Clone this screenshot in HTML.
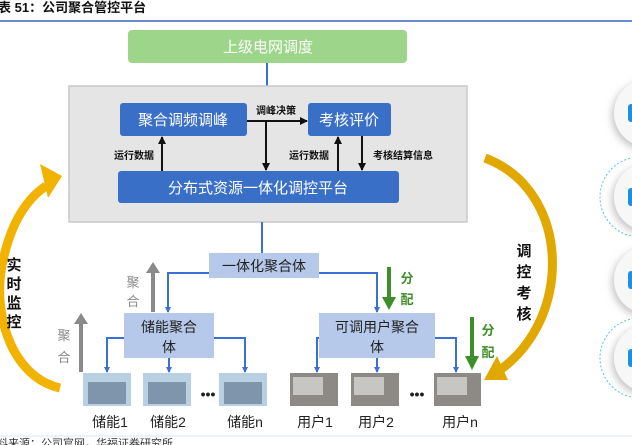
<!DOCTYPE html>
<html><head><meta charset="utf-8"><style>
html,body{margin:0;padding:0;background:#fff;width:632px;height:445px;overflow:hidden}
svg{display:block}
text{font-family:"Liberation Sans","Noto Sans CJK SC",sans-serif}
</style></head><body>
<svg width="632" height="445" viewBox="0 0 632 445" xmlns="http://www.w3.org/2000/svg">
<defs>
<marker id="ab" markerWidth="6" markerHeight="6" refX="5" refY="3" orient="auto" markerUnits="userSpaceOnUse"><path d="M0,0 L6,3 L0,6 z" fill="#3a70d6"/></marker>
<marker id="ak" markerWidth="8" markerHeight="8" refX="7" refY="4" orient="auto" markerUnits="userSpaceOnUse"><path d="M0,0 L8,4 L0,8 z" fill="#111"/></marker>
<filter id="sh" x="-50%" y="-50%" width="200%" height="200%"><feDropShadow dx="-2" dy="3" stdDeviation="4" flood-color="#999" flood-opacity="0.6"/></filter>
</defs>
<text x="-2" y="12" font-size="13" font-weight="bold" fill="#111">表 51：公司聚合管控平台</text>
<line x1="0" y1="21" x2="632" y2="21" stroke="#3a66b8" stroke-width="1.5"/>

<rect x="128" y="30" width="279" height="33" rx="4" fill="#9dd68a"/>
<text x="268" y="52" font-size="15" fill="#fff" text-anchor="middle">上级电网调度</text>
<line x1="267" y1="63" x2="267" y2="87" stroke="#3a70d6" stroke-width="2"/>

<rect x="69" y="86" width="398" height="136" fill="#e5e5e5" stroke="#c8c8c8" stroke-width="1.5"/>
<rect x="120" y="103" width="127" height="33" rx="3" fill="#3a6fc8"/>
<text x="183" y="125" font-size="15" fill="#fff" text-anchor="middle">聚合调频调峰</text>
<rect x="308" y="103" width="83" height="33" rx="3" fill="#3a6fc8"/>
<text x="349" y="125" font-size="15" fill="#fff" text-anchor="middle">考核评价</text>
<rect x="118" y="171" width="281" height="32" rx="3" fill="#3a6fc8"/>
<text x="258" y="193" font-size="15" fill="#fff" text-anchor="middle">分布式资源一体化调控平台</text>

<line x1="247" y1="121" x2="307" y2="121" stroke="#111" stroke-width="2" marker-end="url(#ak)"/>
<text x="276" y="114" font-size="10" font-weight="bold" fill="#111" text-anchor="middle">调峰决策</text>
<line x1="266" y1="121" x2="266" y2="170" stroke="#111" stroke-width="2" marker-end="url(#ak)"/>
<line x1="162" y1="171" x2="162" y2="137" stroke="#111" stroke-width="2" marker-end="url(#ak)"/>
<text x="134" y="159" font-size="10" font-weight="bold" fill="#111" text-anchor="middle">运行数据</text>
<line x1="338" y1="171" x2="338" y2="137" stroke="#111" stroke-width="2" marker-end="url(#ak)"/>
<text x="309" y="159" font-size="10" font-weight="bold" fill="#111" text-anchor="middle">运行数据</text>
<line x1="362" y1="136" x2="362" y2="170" stroke="#111" stroke-width="2" marker-end="url(#ak)"/>
<text x="403" y="159" font-size="10" font-weight="bold" fill="#111" text-anchor="middle">考核结算信息</text>

<line x1="262" y1="222" x2="262" y2="253" stroke="#3a70d6" stroke-width="2"/>
<rect x="209" y="253" width="110" height="25" fill="#b6c9ea"/>
<text x="264" y="271" font-size="14" fill="#222" text-anchor="middle">一体化聚合体</text>
<polyline points="209,273 168,273 168,312" fill="none" stroke="#3a70d6" stroke-width="2" marker-end="url(#ab)"/>
<polyline points="319,273 377,273 377,312" fill="none" stroke="#3a70d6" stroke-width="2" marker-end="url(#ab)"/>

<rect x="124" y="313" width="90" height="45" fill="#b6c9ea"/>
<text x="169" y="332" font-size="14" fill="#222" text-anchor="middle">储能聚合</text>
<text x="169" y="352" font-size="14" fill="#222" text-anchor="middle">体</text>
<rect x="319" y="313" width="116" height="45" fill="#b6c9ea"/>
<text x="377" y="332" font-size="14" fill="#222" text-anchor="middle">可调用户聚合</text>
<text x="377" y="352" font-size="14" fill="#222" text-anchor="middle">体</text>

<polyline points="124,338 107,338 107,372" fill="none" stroke="#3a70d6" stroke-width="2" marker-end="url(#ab)"/>
<line x1="169" y1="358" x2="169" y2="372" stroke="#3a70d6" stroke-width="2" marker-end="url(#ab)"/>
<polyline points="214,338 245,338 245,372" fill="none" stroke="#3a70d6" stroke-width="2" marker-end="url(#ab)"/>
<polyline points="319,338 317,338 317,372" fill="none" stroke="#3a70d6" stroke-width="2" marker-end="url(#ab)"/>
<line x1="377" y1="358" x2="377" y2="372" stroke="#3a70d6" stroke-width="2" marker-end="url(#ab)"/>
<polyline points="435,338 456,338 456,372" fill="none" stroke="#3a70d6" stroke-width="2" marker-end="url(#ab)"/>

<!-- images -->
<g>
<rect x="83" y="373" width="48" height="33" fill="#b9cfe2"/><rect x="88" y="382" width="38" height="22" fill="#7f95ab"/>
<rect x="143" y="373" width="48" height="33" fill="#b9cfe2"/><rect x="148" y="382" width="38" height="22" fill="#7f95ab"/>
<rect x="219" y="373" width="48" height="33" fill="#b9cfe2"/><rect x="224" y="382" width="38" height="22" fill="#7f95ab"/>
<rect x="290" y="373" width="48" height="33" fill="#8d8a86"/><rect x="293" y="377" width="30" height="18" fill="#c8c6c2"/>
<rect x="351" y="373" width="48" height="33" fill="#8d8a86"/><rect x="354" y="377" width="30" height="18" fill="#c8c6c2"/>
<rect x="434" y="373" width="47" height="33" fill="#8d8a86"/><rect x="437" y="377" width="30" height="18" fill="#c8c6c2"/>
</g>
<text x="208" y="399" font-size="14" font-weight="bold" fill="#222" text-anchor="middle">•••</text>
<text x="417" y="399" font-size="14" font-weight="bold" fill="#222" text-anchor="middle">•••</text>
<g font-size="14" fill="#222" text-anchor="middle">
<text x="110" y="427">储能1</text><text x="168" y="427">储能2</text><text x="245" y="427">储能n</text>
<text x="315" y="427">用户1</text><text x="376" y="427">用户2</text><text x="460" y="427">用户n</text>
</g>

<!-- gray arrows -->
<line x1="153" y1="312" x2="153" y2="272" stroke="#8a8a8a" stroke-width="4"/>
<path d="M146,273 L153,262 L160,273 z" fill="#8a8a8a"/>
<text x="133" y="287" font-size="13" fill="#8a8a8a" text-anchor="middle">聚</text>
<text x="133" y="306" font-size="13" fill="#8a8a8a" text-anchor="middle">合</text>
<line x1="81" y1="372" x2="81" y2="323" stroke="#8a8a8a" stroke-width="4"/>
<path d="M74,324 L81,313 L88,324 z" fill="#8a8a8a"/>
<text x="64" y="340" font-size="13" fill="#8a8a8a" text-anchor="middle">聚</text>
<text x="64" y="362" font-size="13" fill="#8a8a8a" text-anchor="middle">合</text>

<!-- green arrows -->
<line x1="389" y1="267" x2="389" y2="298" stroke="#3e8e2a" stroke-width="4"/>
<path d="M382,297 L389,310 L396,297 z" fill="#3e8e2a"/>
<text x="407" y="283" font-size="13" font-weight="bold" fill="#3e8e2a" text-anchor="middle">分</text>
<text x="407" y="304" font-size="13" font-weight="bold" fill="#3e8e2a" text-anchor="middle">配</text>
<line x1="472" y1="317" x2="472" y2="357" stroke="#3e8e2a" stroke-width="4"/>
<path d="M465,356 L472,370 L479,356 z" fill="#3e8e2a"/>
<text x="488" y="335" font-size="13" font-weight="bold" fill="#3e8e2a" text-anchor="middle">分</text>
<text x="488" y="357" font-size="13" font-weight="bold" fill="#3e8e2a" text-anchor="middle">配</text>

<!-- yellow arcs -->
<path d="M60,388 C15,378 -8,320 2,265 C10,225 25,200 46,186" fill="none" stroke="#f2b200" stroke-width="9"/>
<path d="M62,176 L40,164 L48,198 z" fill="#f2b200"/>
<g font-size="15" font-weight="bold" fill="#111" text-anchor="middle">
<text x="14" y="270">实</text><text x="14" y="289">时</text><text x="14" y="308">监</text><text x="14" y="327">控</text>
<text x="524" y="256">调</text><text x="524" y="277">控</text><text x="524" y="298">考</text><text x="524" y="319">核</text>
</g>
<path d="M485,158 C530,175 556,220 552,275 C548,320 525,352 500,370" fill="none" stroke="#e0a800" stroke-width="9"/>
<path d="M484,380 L497,356 L508,380 z" fill="#e0a800"/>

<!-- right circles -->
<circle cx="648" cy="113" r="34" fill="#f7f7f7" filter="url(#sh)"/>
<circle cx="640" cy="197" r="40" fill="none" stroke="#4fc3e8" stroke-width="1" stroke-dasharray="2,2"/>
<circle cx="648" cy="197" r="34" fill="#f7f7f7" filter="url(#sh)"/>
<circle cx="648" cy="280" r="34" fill="#f7f7f7" filter="url(#sh)"/>
<circle cx="640" cy="358" r="40" fill="none" stroke="#4fc3e8" stroke-width="1" stroke-dasharray="2,2"/>
<circle cx="648" cy="358" r="34" fill="#f7f7f7" filter="url(#sh)"/>
<rect x="628" y="104" width="6" height="18" rx="3" fill="#1e90e0"/>
<rect x="628" y="188" width="6" height="18" rx="3" fill="#1e90e0"/>
<rect x="628" y="271" width="6" height="18" rx="3" fill="#1e90e0"/>
<rect x="628" y="349" width="6" height="18" rx="3" fill="#1e90e0"/>

<line x1="0" y1="436" x2="632" y2="436" stroke="#dde3ee" stroke-width="1"/>
<text x="-14" y="447" font-size="11" fill="#333">资料来源：公司官网，华福证券研究所</text>
</svg>
</body></html>
